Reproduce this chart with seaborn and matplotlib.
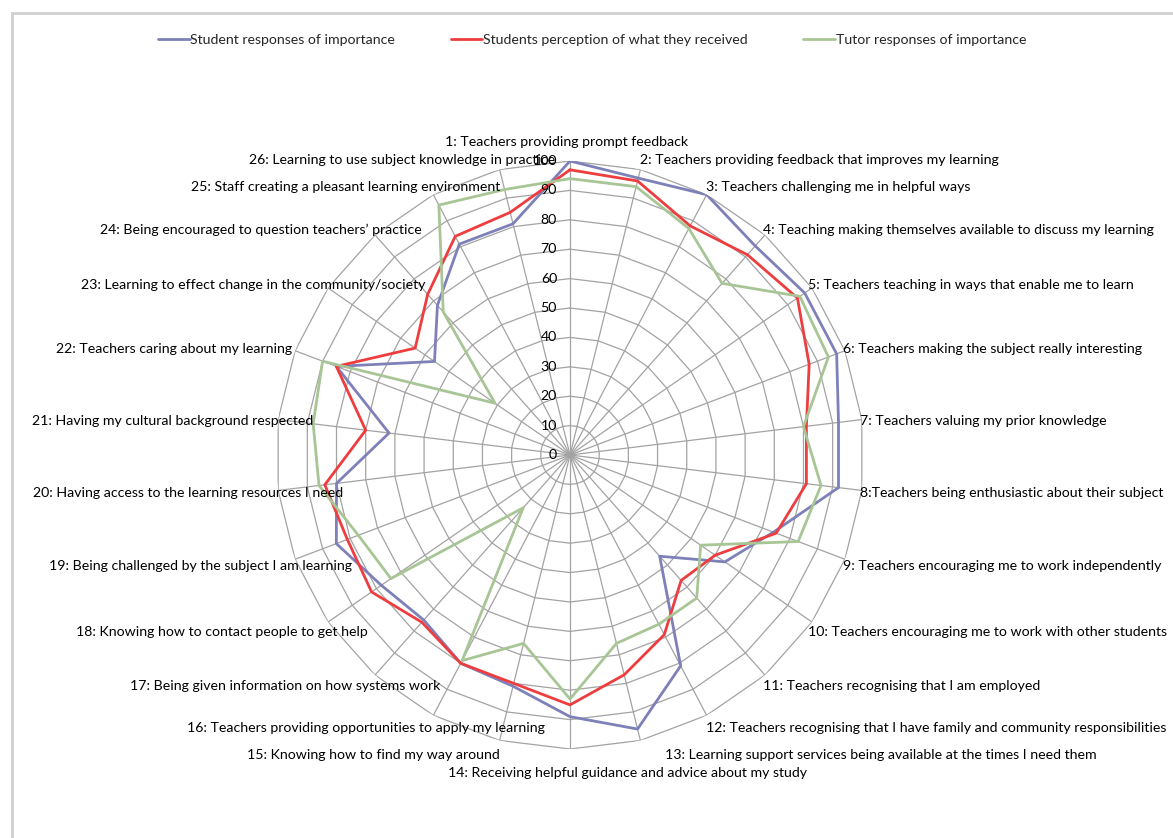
import numpy as np
import pandas as pd
import matplotlib
matplotlib.use("Agg")
import matplotlib.pyplot as plt
import matplotlib.transforms as mtransforms
from matplotlib.patches import Rectangle
import seaborn as sns

categories = [
    "1: Teachers providing prompt feedback",
    "2: Teachers providing feedback that improves my learning",
    "3: Teachers challenging me in helpful ways",
    "4: Teaching making themselves available to discuss my learning",
    "5: Teachers teaching in ways that enable me to learn",
    "6: Teachers making the subject really interesting",
    "7: Teachers valuing my prior knowledge",
    "8:Teachers being enthusiastic about their subject",
    "9: Teachers encouraging me to work independently",
    "10: Teachers encouraging me to work with other students",
    "11: Teachers recognising that I am employed",
    "12: Teachers recognising that I have family and community responsibilities",
    "13: Learning support services being available at the times I need them",
    "14: Receiving helpful guidance and advice about my study",
    "15: Knowing how to find my way around",
    "16: Teachers providing opportunities to apply my learning",
    "17: Being given information on how systems work",
    "18: Knowing how to contact people to get help",
    "19: Being challenged by the subject I am learning",
    "20: Having access to the learning resources I need",
    "21: Having my cultural background respected",
    "22: Teachers caring about my learning",
    "23: Learning to effect change in the community/society",
    "24: Being encouraged to question teachers\u2019 practice",
    "25: Staff creating a pleasant learning environment",
    "26: Learning to use subject knowledge in practice",
]

student_importance = [100, 97, 100, 95, 97, 97, 92, 92, 74, 64, 46, 81, 96,
                      89, 81, 80, 75, 78, 85, 80, 62, 85, 56, 68, 81, 81]
student_received = [97, 96, 88, 91, 94, 87, 81, 81, 75, 60, 57, 69, 77,
                    85, 80, 80, 76, 82, 81, 84, 70, 85, 64, 73, 84, 85]
tutor_importance = [94, 94, 87, 78, 95, 94, 80, 86, 83, 54, 65, 65, 66,
                    83, 66, 79, 24, 74, 77, 86, 88, 90, 31, 65, 96, 93]

series_names = ["Student responses of importance",
                "Students perception of what they received",
                "Tutor responses of importance"]
series_colors = ["#7E80B8", "#EE3D3F", "#A8C596"]
radial_ticks = list(range(0, 101, 10))

# label anchors in pixels (x, y, ha)
label_layout = [
    (567, 142, "center"), (640, 160, "left"), (706, 187, "left"),
    (763, 230, "left"), (808, 285, "left"), (843, 349, "left"),
    (860, 421, "left"), (860, 493, "left"), (843, 566, "left"),
    (808, 632, "left"), (763, 686, "left"), (706, 728, "left"),
    (665, 755, "left"), (627, 773, "center"), (500, 755, "right"),
    (545, 728, "right"), (440, 686, "right"), (368, 632, "right"),
    (352, 566, "right"), (343, 493, "right"), (313, 421, "right"),
    (292, 349, "right"), (425, 285, "right"), (422, 230, "right"),
    (500, 187, "right"), (555, 160, "right"),
]

sns.set_theme(style="white")
plt.rcParams['font.family'] = ['Lato', 'DejaVu Sans']
fs = 10.2

W, H = 1173, 838
fig = plt.figure(figsize=(W / 100, H / 100), dpi=100)
cx, cy, R = 570, 455, 294
ax = fig.add_axes([(cx - R) / W, 1 - (cy + R) / H, 2 * R / W, 2 * R / H],
                  projection='polar')
ax.set_theta_zero_location('N')
ax.set_theta_direction(-1)
ax.grid(False)
ax.spines['polar'].set_visible(False)
ax.patch.set_alpha(0)

n = len(categories)
theta = np.arange(n) * 2 * np.pi / n
theta_closed = np.append(theta, 2 * np.pi)

# spider web grid
grid_color = "#A3A3A3"
for level in radial_ticks[1:]:
    ax.plot(theta_closed, [level] * (n + 1), color=grid_color, lw=0.9, zorder=1)
for t in theta:
    ax.plot([t, t], [0, 100], color=grid_color, lw=0.9, zorder=1)

# data
rows = []
for name, vals in zip(series_names, [student_importance, student_received, tutor_importance]):
    for t, v in zip(theta_closed, vals + vals[:1]):
        rows.append({"theta": t, "value": v, "series": name})
df = pd.DataFrame(rows)
sns.lineplot(data=df, x="theta", y="value", hue="series", hue_order=series_names,
             palette=series_colors, sort=False, estimator=None, lw=2, ax=ax, zorder=3)

ax.set_ylim(0, 100)
ax.set_xticks([])
ax.set_yticks([])
ax.set_xlabel("")
ax.set_ylabel("")

handles, labels = ax.get_legend_handles_labels()
ax.get_legend().remove()
fig.legend(handles, labels, loc="center", bbox_to_anchor=(592 / W, 1 - 40 / H),
           ncol=3, frameon=False, fontsize=fs, handlelength=2.25,
           handletextpad=0.05, columnspacing=3.9)

# radial value labels
tick_tr = mtransforms.offset_copy(ax.transData, fig=fig, x=-13, y=0, units='dots')
for level in radial_ticks:
    ax.text(0, level, str(level), transform=tick_tr, ha="right", va="center",
            fontsize=fs, color="black", zorder=4)

# category labels
for label, (x, y, ha) in zip(categories, label_layout):
    fig.text(x / W, 1 - y / H, label, ha=ha, va="center", fontsize=fs, color="black")

# chart area border
fig.add_artist(Rectangle((12 / W, -0.1), 1.2, 1.1 - 13 / H, transform=fig.transFigure,
                         fill=False, ec="#D0D0D0", lw=2))

fig.savefig("out.png", dpi=100, facecolor="white")
